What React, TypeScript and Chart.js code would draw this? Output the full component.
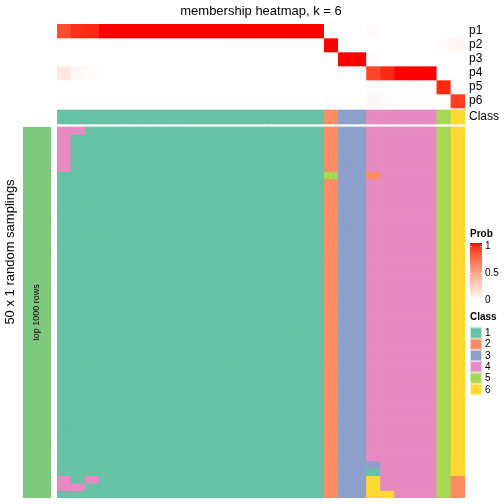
import React, { useEffect, useRef } from "react";
import { Chart, registerables } from "chart.js";
Chart.register(...registerables);

const TITLE = "membership heatmap, k = 6";
const LEFT_TITLE = "50 x 1 random samplings";
const ROW_GROUP_LABEL = "top 1000 rows";
const FONT = "'Liberation Sans', Arial, sans-serif";

const SAMPLES = [
  "s1", "s2", "s3", "s4", "s5", "s6", "s7", "s8", "s9", "s10",
  "s11", "s12", "s13", "s14", "s15", "s16", "s17", "s18", "s19", "s20",
  "s21", "s22", "s23", "s24", "s25", "s26", "s27", "s28", "s29",
];

const PROB_LABELS = ["p1", "p2", "p3", "p4", "p5", "p6"];
const p1 = [0.85, 0.94, 0.95, 1, 1, 1, 1, 1, 1, 1, 1, 1, 1, 1, 1, 1, 1, 1, 1, 0, 0, 0, 0.02, 0, 0, 0, 0, 0, 0];
const p2 = [0, 0, 0, 0, 0, 0, 0, 0, 0, 0, 0, 0, 0, 0, 0, 0, 0, 0, 0, 1, 0, 0, 0, 0, 0, 0, 0, 0.02, 0.05];
const p3 = [0, 0, 0, 0, 0, 0, 0, 0, 0, 0, 0, 0, 0, 0, 0, 0, 0, 0, 0, 0, 1, 1, 0.02, 0, 0, 0, 0, 0, 0];
const p4 = [0.12, 0.04, 0.02, 0, 0, 0, 0, 0, 0, 0, 0, 0, 0, 0, 0, 0, 0, 0, 0, 0, 0, 0, 0.87, 0.95, 1, 1, 1, 0, 0];
const p5 = [0, 0, 0, 0, 0, 0, 0, 0, 0, 0, 0, 0, 0, 0, 0, 0, 0, 0, 0, 0, 0, 0, 0.03, 0, 0, 0, 0, 0.95, 0];
const p6 = [0, 0, 0, 0, 0, 0, 0, 0, 0, 0, 0, 0, 0, 0, 0, 0, 0, 0, 0, 0, 0, 0, 0.05, 0.02, 0, 0, 0, 0, 0.9];
const PROBS = [p1, p2, p3, p4, p5, p6];

const CLASS_LABEL = "Class";
const CLASS_ROW = "11111111111111111112334444456";

// 50 random samplings x 29 samples, class per cell
const SAMPLING_CLASSES = [
  "44111111111111111112334444456",
  "41111111111111111112334444456",
  "41111111111111111112334444456",
  "41111111111111111112334444456",
  "41111111111111111112334444456",
  "41111111111111111112334444456",
  "11111111111111111115332444456",
  "11111111111111111112334444456",
  "11111111111111111112334444456",
  "11111111111111111112334444456",
  "11111111111111111112334444456",
  "11111111111111111112334444456",
  "11111111111111111112334444456",
  "11111111111111111112334444456",
  "11111111111111111112334444456",
  "11111111111111111112334444456",
  "11111111111111111112334444456",
  "11111111111111111112334444456",
  "11111111111111111112334444456",
  "11111111111111111112334444456",
  "11111111111111111112334444456",
  "11111111111111111112334444456",
  "11111111111111111112334444456",
  "11111111111111111112334444456",
  "11111111111111111112334444456",
  "11111111111111111112334444456",
  "11111111111111111112334444456",
  "11111111111111111112334444456",
  "11111111111111111112334444456",
  "11111111111111111112334444456",
  "11111111111111111112334444456",
  "11111111111111111112334444456",
  "11111111111111111112334444456",
  "11111111111111111112334444456",
  "11111111111111111112334444456",
  "11111111111111111112334444456",
  "11111111111111111112334444456",
  "11111111111111111112334444456",
  "11111111111111111112334444456",
  "11111111111111111112334444456",
  "11111111111111111112334444456",
  "11111111111111111112334444456",
  "11111111111111111112334444456",
  "11111111111111111112334444456",
  "11111111111111111112334444456",
  "11111111111111111112333444456",
  "11111111111111111112331444456",
  "41411111111111111112336444452",
  "44111111111111111112336444452",
  "11111111111111111112336644452",
];

const CLASS_NAMES = ["1", "2", "3", "4", "5", "6"];
const CLASS_COLORS = ["#66C2A5", "#FC8D62", "#8DA0CB", "#E78AC3", "#A6D854", "#FFD92F"];
const ROW_GROUP_COLOR = "#7FC97F";
const PROB_TICKS = [1, 0.5, 0];

// ---- layout (y units == pixels inside chart area) ----
const PROB_ROW_H = 14;
const GAP1 = 2;
const CLASS_ROW_H = 14;
const GAP2 = 3;
const MAIN_ROW_H = 7.42;

// ---- LAB colour ramp white -> red ----
function toLin(c: number) { c /= 255; return c <= 0.04045 ? c / 12.92 : Math.pow((c + 0.055) / 1.055, 2.4); }
function fromLin(c: number) { const v = c <= 0.0031308 ? 12.92 * c : 1.055 * Math.pow(c, 1 / 2.4) - 0.055; return Math.round(Math.max(0, Math.min(1, v)) * 255); }
function f(t: number) { return t > 0.008856 ? Math.cbrt(t) : 7.787 * t + 16 / 116; }
function finv(t: number) { const t3 = t * t * t; return t3 > 0.008856 ? t3 : (t - 16 / 116) / 7.787; }
function rgbToLab(r: number, g: number, b: number) {
  const R = toLin(r), G = toLin(g), B = toLin(b);
  const X = (0.4124 * R + 0.3576 * G + 0.1805 * B) / 0.95047;
  const Y = 0.2126 * R + 0.7152 * G + 0.0722 * B;
  const Z = (0.0193 * R + 0.1192 * G + 0.9505 * B) / 1.08883;
  return [116 * f(Y) - 16, 500 * (f(X) - f(Y)), 200 * (f(Y) - f(Z))];
}
function labToRgb(L: number, a: number, b: number) {
  const fy = (L + 16) / 116, fx = fy + a / 500, fz = fy - b / 200;
  const X = finv(fx) * 0.95047, Y = finv(fy), Z = finv(fz) * 1.08883;
  const r = 3.2406 * X - 1.5372 * Y - 0.4986 * Z;
  const g = -0.9689 * X + 1.8758 * Y + 0.0415 * Z;
  const bb = 0.0557 * X - 0.204 * Y + 1.057 * Z;
  return `rgb(${fromLin(r)},${fromLin(g)},${fromLin(bb)})`;
}
const LAB_W = rgbToLab(255, 255, 255);
const LAB_R = rgbToLab(255, 0, 0);
function probColor(v: number) {
  return labToRgb(
    LAB_W[0] + (LAB_R[0] - LAB_W[0]) * v,
    LAB_W[1] + (LAB_R[1] - LAB_W[1]) * v,
    LAB_W[2] + (LAB_R[2] - LAB_W[2]) * v
  );
}

export default function App() {
  const ref = useRef<HTMLCanvasElement | null>(null);
  useEffect(() => {
    document.body.style.margin = "0";
    const canvas = ref.current;
    if (!canvas) return;

    const datasets: any[] = [];
    const rowSpans: { label: string; y0: number; y1: number }[] = [];
    PROBS.forEach((vals, i) => {
      const y0 = i * PROB_ROW_H;
      const y1 = y0 + PROB_ROW_H;
      rowSpans.push({ label: PROB_LABELS[i], y0, y1 });
      datasets.push({
        label: PROB_LABELS[i],
        data: vals.map(() => [y0, y1]),
        backgroundColor: vals.map((v) => probColor(v)),
      });
    });
    const classY0 = PROBS.length * PROB_ROW_H + GAP1;
    const classY1 = classY0 + CLASS_ROW_H;
    rowSpans.push({ label: CLASS_LABEL, y0: classY0, y1: classY1 });
    datasets.push({
      label: CLASS_LABEL,
      data: CLASS_ROW.split("").map(() => [classY0, classY1]),
      backgroundColor: CLASS_ROW.split("").map((c) => CLASS_COLORS[Number(c) - 1]),
    });
    const mainTop = classY1 + GAP2;
    SAMPLING_CLASSES.forEach((row, r) => {
      const y0 = mainTop + r * MAIN_ROW_H;
      const y1 = y0 + MAIN_ROW_H;
      datasets.push({
        label: `sampling ${r + 1}`,
        data: row.split("").map(() => [y0, y1]),
        backgroundColor: row.split("").map((c) => CLASS_COLORS[Number(c) - 1]),
      });
    });
    const mainBottom = mainTop + SAMPLING_CLASSES.length * MAIN_ROW_H;

    const annot = {
      id: "annot",
      afterDraw(chart: any) {
        const { ctx, chartArea: ca, scales } = chart;
        const y = scales.y;
        ctx.save();
        ctx.fillStyle = "#000";
        ctx.textBaseline = "middle";
        // title
        ctx.font = `13px ${FONT}`;
        ctx.textAlign = "center";
        ctx.fillText(TITLE, (ca.left + ca.right) / 2, ca.top - 13);
        // row labels
        ctx.textAlign = "left";
        ctx.font = `12px ${FONT}`;
        rowSpans.forEach((s) => {
          ctx.fillText(s.label, ca.right + 4, y.getPixelForValue((s.y0 + s.y1) / 2));
        });
        // row group annotation bar
        const mt = y.getPixelForValue(mainTop);
        const mb = y.getPixelForValue(mainBottom);
        ctx.fillStyle = ROW_GROUP_COLOR;
        ctx.fillRect(ca.left - 34, mt, 28, mb - mt);
        ctx.fillStyle = "#000";
        ctx.save();
        ctx.translate(ca.left - 20, (mt + mb) / 2);
        ctx.rotate(-Math.PI / 2);
        ctx.textAlign = "center";
        ctx.font = `9px ${FONT}`;
        ctx.fillText(ROW_GROUP_LABEL, 0, 0);
        ctx.restore();
        ctx.save();
        ctx.translate(ca.left - 47, 252);
        ctx.rotate(-Math.PI / 2);
        ctx.textAlign = "center";
        ctx.font = `13px ${FONT}`;
        ctx.fillText(LEFT_TITLE, 0, 0);
        ctx.restore();

        // legends
        const lx = ca.right + 5;
        ctx.textAlign = "left";
        ctx.font = `bold 10px ${FONT}`;
        ctx.fillText("Prob", lx, 234);
        const gTop = 243, gBot = 300;
        const grad = ctx.createLinearGradient(0, gTop, 0, gBot);
        for (let i = 0; i <= 20; i++) grad.addColorStop(i / 20, probColor(1 - i / 20));
        ctx.fillStyle = grad;
        ctx.fillRect(lx, gTop, 12, gBot - gTop);
        ctx.font = `10px ${FONT}`;
        PROB_TICKS.forEach((t) => {
          const ty = gTop + 3 + (1 - t) * (gBot - gTop - 3);
          ctx.strokeStyle = "rgba(255,255,255,0.7)";
          ctx.lineWidth = 1;
          ctx.beginPath();
          ctx.moveTo(lx, Math.round(ty) + 0.5); ctx.lineTo(lx + 2, Math.round(ty) + 0.5);
          ctx.moveTo(lx + 10, Math.round(ty) + 0.5); ctx.lineTo(lx + 12, Math.round(ty) + 0.5);
          ctx.stroke();
          ctx.fillStyle = "#000";
          ctx.fillText(String(t), lx + 15, ty);
        });
        ctx.font = `bold 10px ${FONT}`;
        ctx.fillText("Class", lx, 317);
        ctx.font = `10px ${FONT}`;
        CLASS_NAMES.forEach((n, i) => {
          const sy = 327.3 + i * 11.3;
          ctx.fillStyle = CLASS_COLORS[i];
          ctx.fillRect(lx, sy, 12, 11.3);
          ctx.strokeStyle = "rgba(255,255,255,0.6)";
          ctx.strokeRect(lx + 0.5, sy + 0.5, 11, 10.3);
          ctx.fillStyle = "#000";
          ctx.fillText(n, lx + 15, sy + 6);
        });
        ctx.restore();
      },
    };

    const chart = new Chart(canvas, {
      type: "bar",
      data: { labels: SAMPLES, datasets },
      options: {
        animation: false,
        responsive: false,
        maintainAspectRatio: false,
        layout: { padding: { left: 57, right: 39, top: 24, bottom: 6 } },
        plugins: { legend: { display: false }, tooltip: { enabled: false }, title: { display: false } },
        datasets: { bar: { barPercentage: 1, categoryPercentage: 1, grouped: false, borderWidth: 0 } } as any,
        scales: {
          x: { display: false },
          y: { type: "linear", display: false, min: 0, max: mainBottom, reverse: true },
        },
      },
      plugins: [annot],
    });
    return () => chart.destroy();
  }, []);
  return (
    <div style={{ position: "fixed", left: 0, top: 0, width: 504, height: 504, background: "#fff" }}>
      <canvas ref={ref} width={504} height={504} style={{ width: 504, height: 504 }} />
    </div>
  );
}
